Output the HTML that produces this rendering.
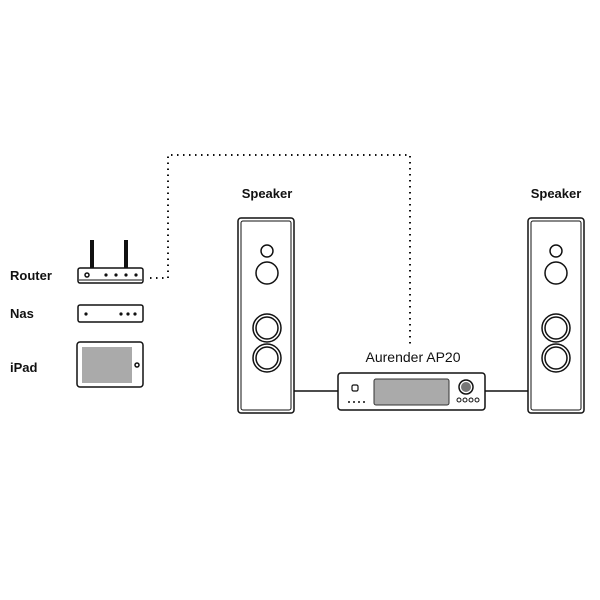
<!DOCTYPE html>
<html><head><style>body{margin:0;background:#fff}svg{display:block}text{font-family:"Liberation Sans",sans-serif;font-size:13px;fill:#111}</style></head>
<body>
<svg width="600" height="600" viewBox="0 0 600 600" xmlns="http://www.w3.org/2000/svg">
<g fill="none" stroke="#111" stroke-width="1.5">
<path d="M150 278 H168 V155 H410 V345" stroke-dasharray="1.5 4.5" stroke-width="2"/>
<line x1="92" y1="240" x2="92" y2="268" stroke-width="4"/>
<line x1="126" y1="240" x2="126" y2="268" stroke-width="4"/>
<rect x="78" y="268" width="65" height="15" rx="2"/>
<line x1="79" y1="280" x2="142" y2="280" stroke-width="1"/>
<circle cx="87" cy="275" r="2"/>
<rect x="78" y="305" width="65" height="17" rx="2"/>
<rect x="77" y="342" width="66" height="45" rx="3"/>
<circle cx="137" cy="365" r="2"/>
<rect x="238" y="218" width="56" height="195" rx="3"/>
<rect x="241" y="221" width="50" height="189" rx="2" stroke-width="1"/>
<circle cx="267" cy="251" r="6"/><circle cx="267" cy="273" r="11"/>
<circle cx="267" cy="328" r="14"/><circle cx="267" cy="328" r="11"/>
<circle cx="267" cy="358" r="14"/><circle cx="267" cy="358" r="11"/>
<rect x="528" y="218" width="56" height="195" rx="3"/>
<rect x="531" y="221" width="50" height="189" rx="2" stroke-width="1"/>
<circle cx="556" cy="251" r="6"/><circle cx="556" cy="273" r="11"/>
<circle cx="556" cy="328" r="14"/><circle cx="556" cy="328" r="11"/>
<circle cx="556" cy="358" r="14"/><circle cx="556" cy="358" r="11"/>
<line x1="294" y1="391" x2="338" y2="391"/>
<line x1="485" y1="391" x2="528" y2="391"/>
<rect x="338" y="373" width="147" height="37" rx="3"/>
<rect x="352" y="385" width="6" height="6" rx="1.5" stroke-width="1.2"/>
<circle cx="466" cy="387" r="7"/>
<g stroke-width="1"><circle cx="459" cy="400" r="2"/><circle cx="465" cy="400" r="2"/><circle cx="471" cy="400" r="2"/><circle cx="477" cy="400" r="2"/></g>
</g>
<g fill="#111">
<circle cx="106" cy="275" r="1.6"/><circle cx="116" cy="275" r="1.6"/><circle cx="126" cy="275" r="1.6"/><circle cx="136" cy="275" r="1.6"/>
<circle cx="86" cy="314" r="1.6"/><circle cx="121" cy="314" r="1.6"/><circle cx="128" cy="314" r="1.6"/><circle cx="135" cy="314" r="1.6"/>
<circle cx="349" cy="402" r="1"/><circle cx="354" cy="402" r="1"/><circle cx="359" cy="402" r="1"/><circle cx="364" cy="402" r="1"/>
</g>
<rect x="82" y="347" width="50" height="36" fill="#aaa"/>
<rect x="374" y="379" width="75" height="26" rx="2" fill="#aaa" stroke="#333" stroke-width="1"/>
<circle cx="466" cy="387" r="5" fill="#777"/>
<text x="10" y="280" font-weight="bold">Router</text>
<text x="10" y="318" font-weight="bold">Nas</text>
<text x="10" y="372" font-weight="bold">iPad</text>
<text x="267" y="198" text-anchor="middle" font-weight="bold">Speaker</text>
<text x="556" y="198" text-anchor="middle" font-weight="bold">Speaker</text>
<text x="413" y="362" text-anchor="middle" style="font-size:14px">Aurender AP20</text>
</svg>
</body></html>
